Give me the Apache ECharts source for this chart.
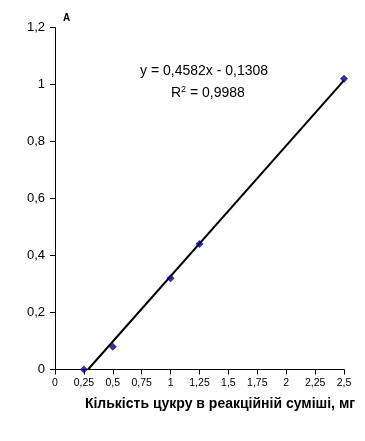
<!DOCTYPE html>
<html><head><meta charset="utf-8">
<script src="https://cdn.jsdelivr.net/npm/echarts@6/dist/echarts.min.js"></script>
<style>html,body{margin:0;padding:0;background:#fff}#c{width:365px;height:441px}</style>
</head><body><div id="c"></div>
<script>
const xValues = [0.25, 0.5, 1, 1.25, 2.5];
const yValues = [0, 0.08, 0.32, 0.44, 1.02];
const slope = 0.4582;
const intercept = -0.1308;
const trendX = [-intercept / slope, 2.5];
const equationText = 'y = 0,4582x - 0,1308';
const r2Text = 'R{s|2} = 0,9988';
const xTitle = 'Кількість цукру в реакційній суміші, мг';
const yTitle = 'A';

const fmt = v => String(+v.toFixed(2)).replace('.', ',');
const chart = echarts.init(document.getElementById('c'));
chart.setOption({
  animation: false,
  textStyle: {fontFamily: 'Liberation Sans, Arial, sans-serif'},
  grid: {left: 55, right: 21, top: 27.5, bottom: 71.5, containLabel: false, outerBoundsMode: 'none'},
  xAxis: {
    type: 'value', min: 0, max: 2.5, interval: 0.25,
    axisLine: {onZero: false, lineStyle: {color: '#000', width: 1}},
    axisTick: {show: true, inside: false, length: 5, lineStyle: {color: '#000'}},
    axisLabel: {color: '#000', fontSize: 10.5, margin: 8, formatter: fmt},
    splitLine: {show: false},
    name: xTitle, nameLocation: 'middle', nameGap: 28,
    nameTextStyle: {color: '#000', fontSize: 14, fontWeight: 'bold', padding: [0, 0, 0, 41]}
  },
  yAxis: {
    type: 'value', min: 0, max: 1.2, interval: 0.2,
    axisLine: {show: true, lineStyle: {color: '#000', width: 1}},
    axisTick: {show: true, inside: false, length: 5, lineStyle: {color: '#000'}},
    axisLabel: {color: '#000', fontSize: 13, margin: 10, formatter: fmt},
    splitLine: {show: false},
    name: yTitle, nameLocation: 'end', nameGap: 4,
    nameTextStyle: {color: '#000', fontSize: 10, fontWeight: 'bold', align: 'left', padding: [0, 0, 0, 8]}
  },
  graphic: [
    {type: 'text', left: 140, top: 64, style: {text: equationText, fill: '#000', fontSize: 14, fontFamily: 'Liberation Sans, Arial, sans-serif'}},
    {type: 'text', left: 171, top: 85, style: {text: r2Text, fill: '#000', fontSize: 14, fontFamily: 'Liberation Sans, Arial, sans-serif',
      rich: {s: {fontSize: 9, verticalAlign: 'top', padding: [0, 0, 7, 0], fill: '#000'}}}}
  ],
  series: [
    {
      type: 'line', data: trendX.map(x => [x, slope * x + intercept]),
      symbol: 'none', lineStyle: {color: '#000', width: 2}, z: 2
    },
    {
      type: 'scatter', data: xValues.map((x, i) => [x, yValues[i]]),
      symbol: 'diamond', symbolSize: 8, itemStyle: {color: '#000080'}, z: 3
    }
  ]
});
</script></body></html>
